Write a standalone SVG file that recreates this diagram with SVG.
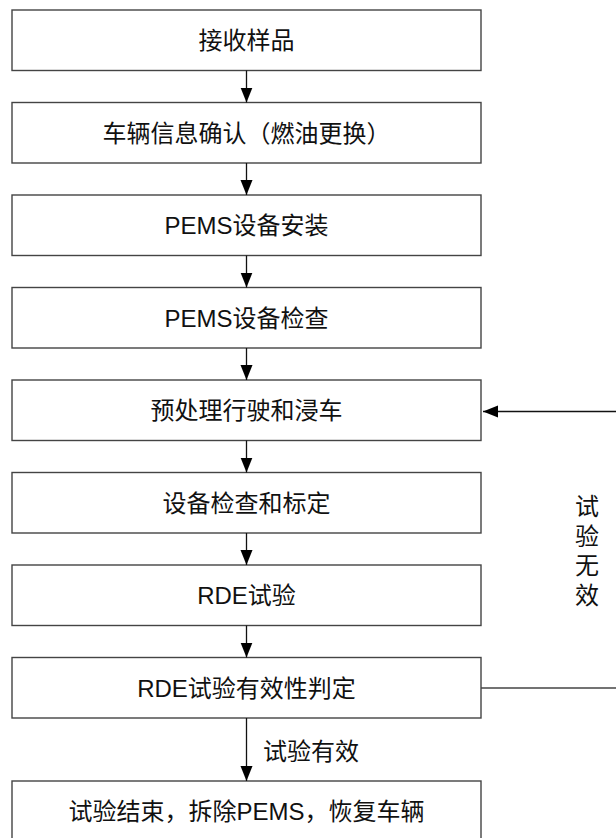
<svg xmlns="http://www.w3.org/2000/svg" width="616" height="838" viewBox="0 0 616 838">
<style>
.box{fill:#fff;stroke:#444;stroke-width:1.4}
.t{font-family:"Liberation Sans","Noto Sans CJK SC",sans-serif;font-size:24px;fill:#111;text-anchor:middle;dominant-baseline:central}
.tl{font-family:"Liberation Sans","Noto Sans CJK SC",sans-serif;font-size:24px;fill:#111;dominant-baseline:central}
.ln{stroke:#111;stroke-width:1.3;fill:none}
.ln2{stroke:#444;stroke-width:1.4;fill:none}
</style>
<defs>
<marker id="ah" markerWidth="15" markerHeight="13" refX="15" refY="6.5" orient="auto" markerUnits="userSpaceOnUse">
<path d="M0,0.5 L15,6.5 L0,12.5 Z" fill="#000"/>
</marker>
</defs>
<rect width="616" height="838" fill="#fff"/>
<g id="n1"><rect class="box" x="12" y="10" width="469" height="60.5"/><text class="t" x="246.5" y="40.5">接收样品</text></g>
<g id="n2"><rect class="box" x="12" y="102.5" width="469" height="60.5"/><text class="t" x="246.5" y="133">车辆信息确认（燃油更换）</text></g>
<g id="n3"><rect class="box" x="12" y="195" width="469" height="60.5"/><text class="t" x="246.5" y="225.5">PEMS设备安装</text></g>
<g id="n4"><rect class="box" x="12" y="287.5" width="469" height="60.5"/><text class="t" x="246.5" y="318">PEMS设备检查</text></g>
<g id="n5"><rect class="box" x="12" y="380" width="469" height="60.5"/><text class="t" x="246.5" y="410.5">预处理行驶和浸车</text></g>
<g id="n6"><rect class="box" x="12" y="472.5" width="469" height="60.5"/><text class="t" x="246.5" y="503">设备检查和标定</text></g>
<g id="n7"><rect class="box" x="12" y="565" width="469" height="60.5"/><text class="t" x="246.5" y="595.5">RDE试验</text></g>
<g id="n8"><rect class="box" x="12" y="657.5" width="469" height="60.5"/><text class="t" x="246.5" y="688">RDE试验有效性判定</text></g>
<g id="n9"><rect class="box" x="12" y="781" width="469" height="62"/><text class="t" x="246.5" y="811">试验结束，拆除PEMS，恢复车辆</text></g>
<g id="connectors">
<line class="ln" x1="246.5" y1="70.5" x2="246.5" y2="102.5" marker-end="url(#ah)"/>
<line class="ln" x1="246.5" y1="163" x2="246.5" y2="195" marker-end="url(#ah)"/>
<line class="ln" x1="246.5" y1="255.5" x2="246.5" y2="287.5" marker-end="url(#ah)"/>
<line class="ln" x1="246.5" y1="348" x2="246.5" y2="380" marker-end="url(#ah)"/>
<line class="ln" x1="246.5" y1="440.5" x2="246.5" y2="472.5" marker-end="url(#ah)"/>
<line class="ln" x1="246.5" y1="533" x2="246.5" y2="565" marker-end="url(#ah)"/>
<line class="ln" x1="246.5" y1="625.5" x2="246.5" y2="657.5" marker-end="url(#ah)"/>
<line class="ln" x1="246.5" y1="718" x2="246.5" y2="781" marker-end="url(#ah)"/>
<line class="ln2" x1="481" y1="688" x2="616" y2="688"/>
<line class="ln" x1="616" y1="411.5" x2="483" y2="411.5" marker-end="url(#ah)"/>
<text class="tl" x="263" y="751">试验有效</text>
<text class="t" x="587"><tspan x="587" y="506">试</tspan><tspan x="587" y="535.5">验</tspan><tspan x="587" y="565">无</tspan><tspan x="587" y="594.5">效</tspan></text>
</g>
</svg>
